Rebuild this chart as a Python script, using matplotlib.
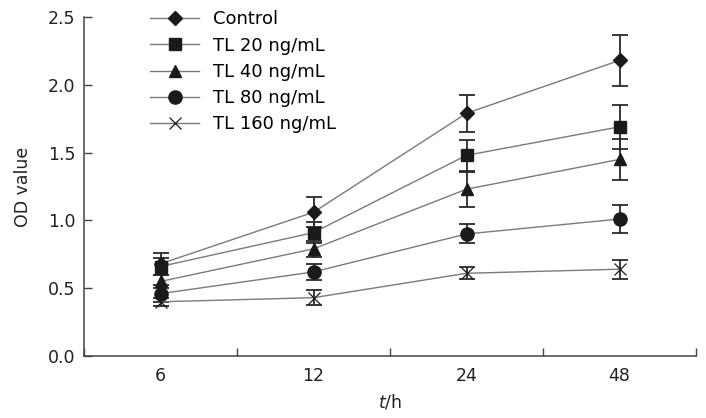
import numpy as np
import matplotlib.pyplot as plt

times = ["6", "12", "24", "48"]
series = ["Control", "TL 20 ng/mL", "TL 40 ng/mL", "TL 80 ng/mL", "TL 160 ng/mL"]
markers = ["D", "s", "^", "o", "x"]

control = [0.68, 1.06, 1.79, 2.18]
tl20 = [0.66, 0.91, 1.48, 1.69]
tl40 = [0.55, 0.79, 1.23, 1.45]
tl80 = [0.46, 0.62, 0.90, 1.01]
tl160 = [0.40, 0.43, 0.61, 0.64]

control_err = [0.08, 0.11, 0.135, 0.19]
tl20_err = [0.06, 0.08, 0.115, 0.16]
tl40_err = [0.05, 0.06, 0.13, 0.15]
tl80_err = [0.06, 0.06, 0.07, 0.105]
tl160_err = [0.03, 0.055, 0.045, 0.07]

values = [control, tl20, tl40, tl80, tl160]
errors = [control_err, tl20_err, tl40_err, tl80_err, tl160_err]

plt.rcParams['font.family'] = ['DejaVu Sans']

fig = plt.figure(figsize=(7.06, 4.18), dpi=100)
ax = fig.add_axes([84/706, 62/418, 612/706, 339/418])

x = np.arange(len(times))
sizes = [7.5, 8.5, 8.5, 9.5, 8]
for vals, err, m, lab, ms in zip(values, errors, markers, series, sizes):
    ax.errorbar(x, vals, yerr=err, fmt='none', ecolor='#2a2a2a', elinewidth=1.3,
                capsize=6, capthick=1.3, zorder=2)
    ax.plot(x, vals, color='#7a7a7a', lw=1.0, marker=m, markersize=ms,
            markerfacecolor='#1a1a1a', markeredgecolor='#1a1a1a',
            markeredgewidth=1.0 if m != 'x' else 0.9, label=lab, zorder=3)

ax.set_xlim(-0.5, 3.5)
ax.set_ylim(0, 2.5)
ax.set_yticks(np.arange(0, 2.51, 0.5))
ax.set_yticklabels([f"{v:.1f}" for v in np.arange(0, 2.51, 0.5)])
ax.set_xticks(x)
ax.set_xticklabels(times)
ax.set_xticks(np.arange(-0.5, 3.6, 1), minor=True)
ax.tick_params(axis='x', which='major', length=0, labelsize=12.5, pad=8, colors='#222222')
ax.tick_params(axis='x', which='minor', length=6, direction='in', width=1, color='#444444')
ax.tick_params(axis='y', length=6, direction='in', width=1, labelsize=12.5, pad=6,
               color='#444444', labelcolor='#222222')

for s in ['top', 'right']:
    ax.spines[s].set_visible(False)
for s in ['left', 'bottom']:
    ax.spines[s].set_color('#444444')
    ax.spines[s].set_linewidth(1.1)

ax.set_ylabel('OD value', fontsize=12.5, color='#222222', labelpad=12)
ax.set_xlabel(r'$\it{t}$/h', fontsize=12.5, color='#222222', labelpad=5)

leg = ax.legend(loc='upper left', bbox_to_anchor=(143/706, 1 - 3/418), bbox_transform=fig.transFigure,
                frameon=False, fontsize=13, handlelength=2.7, handletextpad=0.8,
                labelspacing=0.46, borderaxespad=0)

fig.savefig('out.png', dpi=100)
